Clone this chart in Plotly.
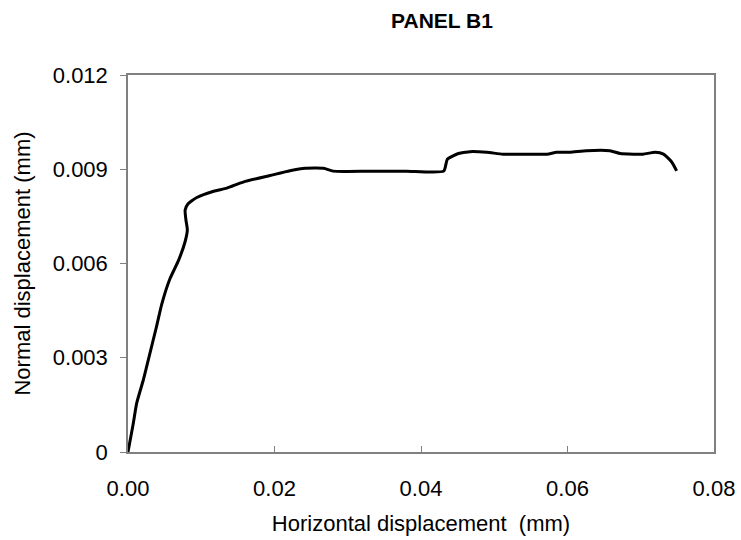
import plotly.graph_objects as go

# Horizontal displacement (mm)
x_vals = [0.0, 0.00072, 0.00118, 0.0021, 0.0030, 0.0039, 0.0046, 0.0057, 0.0069, 0.0078,
          0.0081, 0.0079, 0.0078, 0.0082, 0.0094, 0.0117, 0.0135, 0.0158, 0.0194, 0.0221,
          0.0242, 0.0267, 0.0280, 0.0330, 0.0380, 0.0431, 0.0436, 0.0451, 0.0467, 0.0490,
          0.0512, 0.0542, 0.0572, 0.0585, 0.0603, 0.0626, 0.0658, 0.0672, 0.0690, 0.0703,
          0.0720, 0.0731, 0.0742, 0.0749]
# Normal displacement (mm)
y_vals = [0.0, 0.00091, 0.00155, 0.0023, 0.00315, 0.0040, 0.0047, 0.0055, 0.0061, 0.0067,
          0.00707, 0.0074, 0.0077, 0.0079, 0.0081, 0.0083, 0.0084, 0.0086, 0.0088, 0.00895,
          0.00903, 0.00903, 0.00894, 0.00894, 0.00894, 0.00894, 0.00932, 0.0095, 0.00956, 0.00954,
          0.00948, 0.00948, 0.00948, 0.00954, 0.00954, 0.00959, 0.00959, 0.0095, 0.00948, 0.00948,
          0.00954, 0.00948, 0.00924, 0.00895]

x_ticks = [0.0, 0.02, 0.04, 0.06, 0.08]
x_ticktext = ["0.00", "0.02", "0.04", "0.06", "0.08"]
y_ticks = [0.0, 0.003, 0.006, 0.009, 0.012]
y_ticktext = ["0", "0.003", "0.006", "0.009", "0.012"]

fig = go.Figure()
fig.add_trace(go.Scatter(x=x_vals, y=y_vals, mode="lines",
                         line=dict(color="black", width=3, shape="spline", smoothing=0.5),
                         showlegend=False))

font_family = "Liberation Sans, Arial, sans-serif"
fig.update_layout(
    width=741, height=540,
    paper_bgcolor="white", plot_bgcolor="white",
    margin=dict(l=128, r=27, t=75, b=88),
    title=dict(text="<b>PANEL B1</b>", x=442/741, xanchor="center", y=1-21/540, yanchor="middle",
               font=dict(family=font_family, size=21, color="black")),
    font=dict(family=font_family, size=22, color="black"),
)
fig.update_xaxes(range=[0, 0.08], tickvals=x_ticks, ticktext=x_ticktext, automargin=False,
                 showgrid=False, zeroline=False, showline=True, linecolor="#808080", linewidth=1.5,
                 mirror=True, ticks="inside", ticklen=6, tickcolor="#808080",
                 ticklabelstandoff=16,
                 title=dict(text="Horizontal displacement  (mm)", standoff=15,
                            font=dict(family=font_family, size=22)),
                 tickfont=dict(family=font_family, size=22))
fig.update_yaxes(range=[0, 0.012], tickvals=y_ticks, ticktext=y_ticktext, automargin=False,
                 showgrid=False, zeroline=False, showline=True, linecolor="#808080", linewidth=1.5,
                 mirror=True, ticks="outside", ticklen=6, tickcolor="#808080",
                 ticklabelstandoff=8,
                 title=dict(text="Normal displacement (mm)", standoff=16,
                            font=dict(family=font_family, size=22)),
                 tickfont=dict(family=font_family, size=22))

fig.write_html("out.html", post_script="document.body.style.margin='0';",
               config={"displayModeBar": False})
